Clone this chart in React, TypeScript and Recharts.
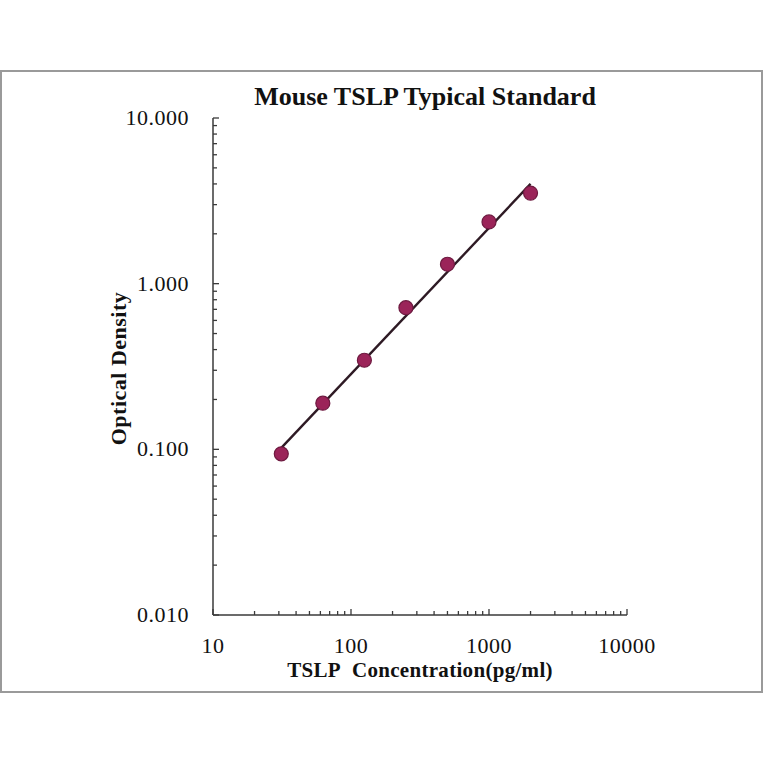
import React from 'react';
import { ComposedChart, XAxis, YAxis, Line, Scatter, Label } from 'recharts';

const concentrations = [31.25, 62.5, 125, 250, 500, 1000, 2000];
const opticalDensity = [0.094, 0.19, 0.345, 0.716, 1.31, 2.36, 3.52];
const fitX = [31.25, 2000];
const fitY = [0.102, 4.0];
const xMajorTicks = [10, 100, 1000, 10000];
const yMajorTicks = [0.01, 0.1, 1, 10];
const yTickLabels = ['0.010', '0.100', '1.000', '10.000'];
const xTickLabels = ['10', '100', '1000', '10000'];

const points = concentrations.map((x, i) => ({ x, y: opticalDensity[i] }));
const fitLine = fitX.map((x, i) => ({ x, y: fitY[i] }));

const minorOf = (majors: number[]) => {
  const out: number[] = [];
  majors.forEach((m, idx) => {
    out.push(m);
    if (idx < majors.length - 1) {
      for (let k = 2; k <= 9; k++) out.push(m * k);
    }
  });
  return out;
};
const xTicks = minorOf(xMajorTicks);
const yTicks = minorOf(yMajorTicks);

const FONT = '"Liberation Serif", "Times New Roman", serif';
const AXIS = '#3a3a3a';

const XTick = (props: any) => {
  const { x, y, payload } = props;
  const v = payload.value;
  const idx = xMajorTicks.findIndex((m) => Math.abs(m - v) / m < 1e-6);
  const major = idx >= 0;
  return (
    <g>
      <line x1={x} x2={x} y1={y} y2={y - (major ? 6 : 4)} stroke={AXIS} strokeWidth={1.3} />
      {major && (
        <text x={x} y={y + 38} textAnchor="middle" fontFamily={FONT} fontSize={22} fill="#111" letterSpacing={0.5}>
          {xTickLabels[idx]}
        </text>
      )}
    </g>
  );
};

const YTick = (props: any) => {
  const { x, y, payload } = props;
  const v = payload.value;
  const idx = yMajorTicks.findIndex((m) => Math.abs(m - v) / m < 1e-6);
  const major = idx >= 0;
  return (
    <g>
      <line x1={x} x2={x + (major ? 6 : 4)} y1={y} y2={y} stroke={AXIS} strokeWidth={1.3} />
      {major && (
        <text x={x - 24} y={y + 7} textAnchor="end" fontFamily={FONT} fontSize={22} fill="#111" letterSpacing={0.5}>
          {yTickLabels[idx]}
        </text>
      )}
    </g>
  );
};

const Dot = (props: any) => {
  const { cx, cy } = props;
  return <circle cx={cx} cy={cy} r={7} fill="#9b2459" stroke="#6e1a40" strokeWidth={1.2} />;
};

export default function App() {
  return (
    <div style={{ position: 'absolute', left: 0, top: 0, width: 764, height: 764, background: '#fff' }}>
      <div
        style={{
          position: 'absolute',
          left: 0,
          top: 70,
          width: 759,
          height: 619,
          border: '2px solid #9a9a9a',
        }}
      />
      <div
        style={{
          position: 'absolute',
          left: 0,
          width: 850,
          top: 81,
          textAlign: 'center',
          fontFamily: FONT,
          fontWeight: 'bold',
          fontSize: 26,
          color: '#111',
          lineHeight: '32px',
        }}
      >
        Mouse TSLP Typical Standard
      </div>
      <div style={{ position: 'absolute', left: 0, top: 0 }}>
        <ComposedChart
          width={764}
          height={764}
          margin={{ top: 118, right: 137, bottom: 109, left: 113 }}
        >
          <XAxis
            dataKey="x"
            type="number"
            scale="log"
            domain={[10, 10000]}
            ticks={xTicks}
            interval={0}
            height={40}
            allowDataOverflow
            tickLine={false}
            tickSize={0}
            tickMargin={0}
            tick={<XTick />}
            axisLine={{ stroke: AXIS, strokeWidth: 1.5 }}
          >
            <Label
              value={'TSLP\u00a0\u00a0Concentration(pg/ml)'}
              position="insideBottom"
              offset={-22}
              style={{ fontFamily: FONT, fontWeight: 'bold', fontSize: 21, fill: '#111', letterSpacing: 0.3 }}
            />
          </XAxis>
          <YAxis
            dataKey="y"
            type="number"
            scale="log"
            domain={[0.01, 10]}
            ticks={yTicks}
            interval={0}
            width={100}
            allowDataOverflow
            tickLine={false}
            tickSize={0}
            tickMargin={0}
            tick={<YTick />}
            axisLine={{ stroke: AXIS, strokeWidth: 1.5 }}
          >
            <Label
              value="Optical Density"
              angle={-90}
              position="insideLeft"
              offset={0}
              dx={5}
              dy={2}
              style={{ fontFamily: FONT, fontWeight: 'bold', fontSize: 22, fill: '#111', textAnchor: 'middle', letterSpacing: 0.5 }}
            />
          </YAxis>
          <Scatter data={points} dataKey="y" shape={<Dot />} isAnimationActive={false} />
          <Line
            data={fitLine}
            dataKey="y"
            stroke="#2e1a24"
            strokeWidth={2.4}
            dot={false}
            activeDot={false}
            isAnimationActive={false}
          />
        </ComposedChart>
      </div>
    </div>
  );
}
